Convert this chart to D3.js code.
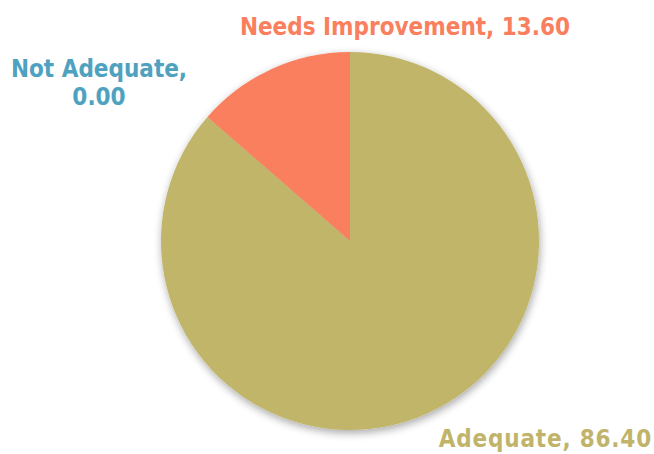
<!DOCTYPE html>
<html><head><meta charset="utf-8">
<script src="https://cdn.jsdelivr.net/npm/d3@7"></script>
<style>html,body{margin:0;padding:0;background:#fff;}svg{display:block;}</style>
</head><body>
<svg id="c" width="654" height="454"></svg>
<script>
const categories = ["Adequate", "Needs Improvement", "Not Adequate"];
const values = [86.40, 13.60, 0.00];
const colors = ["#C1B56B", "#F97F5E", "#4FA3C0"];
const labelColors = ["#C1B46A", "#F97F5E", "#4EA2BF"];

const svg = d3.select("#c");
const cx = 350, cy = 241, r = 189;

const defs = svg.append("defs");
const f = defs.append("filter").attr("id","sh").attr("x","-20%").attr("y","-20%").attr("width","140%").attr("height","140%");
f.append("feGaussianBlur").attr("in","SourceAlpha").attr("stdDeviation",4).attr("result","b");
f.append("feOffset").attr("in","b").attr("dx",1).attr("dy",3).attr("result","o");
f.append("feComponentTransfer").attr("in","o").attr("result","o2").append("feFuncA").attr("type","linear").attr("slope",0.35);
const m = f.append("feMerge");
m.append("feMergeNode").attr("in","o2");
m.append("feMergeNode").attr("in","SourceGraphic");

const pie = d3.pie().sort(null).value(d => d)(values);
const arc = d3.arc().innerRadius(0).outerRadius(r);
const g = svg.append("g").attr("transform", `translate(${cx},${cy})`).attr("filter","url(#sh)");
g.selectAll("path").data(pie).join("path")
  .attr("d", arc).attr("fill", (d,i) => colors[i]);

const font = "'DejaVu Sans Condensed', 'DejaVu Sans', Verdana, sans-serif";
const fmt = d3.format(".2f");
const labels = [
  {i:0, lines:[categories[0] + ", " + fmt(values[0])], x:652, y:447, anchor:"end", ls:0.8},
  {i:1, lines:[categories[1] + ", " + fmt(values[1])], x:405, y:35, anchor:"middle", ls:0},
  {i:2, lines:[categories[2] + ",", fmt(values[2])], x:99, y:77, anchor:"middle", ls:0}
];
labels.forEach(L => {
  const t = svg.append("text").attr("x", L.x).attr("y", L.y)
    .attr("text-anchor", L.anchor).attr("fill", labelColors[L.i])
    .attr("font-family", font).attr("font-weight", "bold").attr("font-size", 24)
    .attr("font-stretch", "condensed").attr("letter-spacing", L.ls);
  L.lines.forEach((s, k) => t.append("tspan").attr("x", L.x).attr("dy", k ? 28 : 0).text(s));
});
</script>
</body></html>
